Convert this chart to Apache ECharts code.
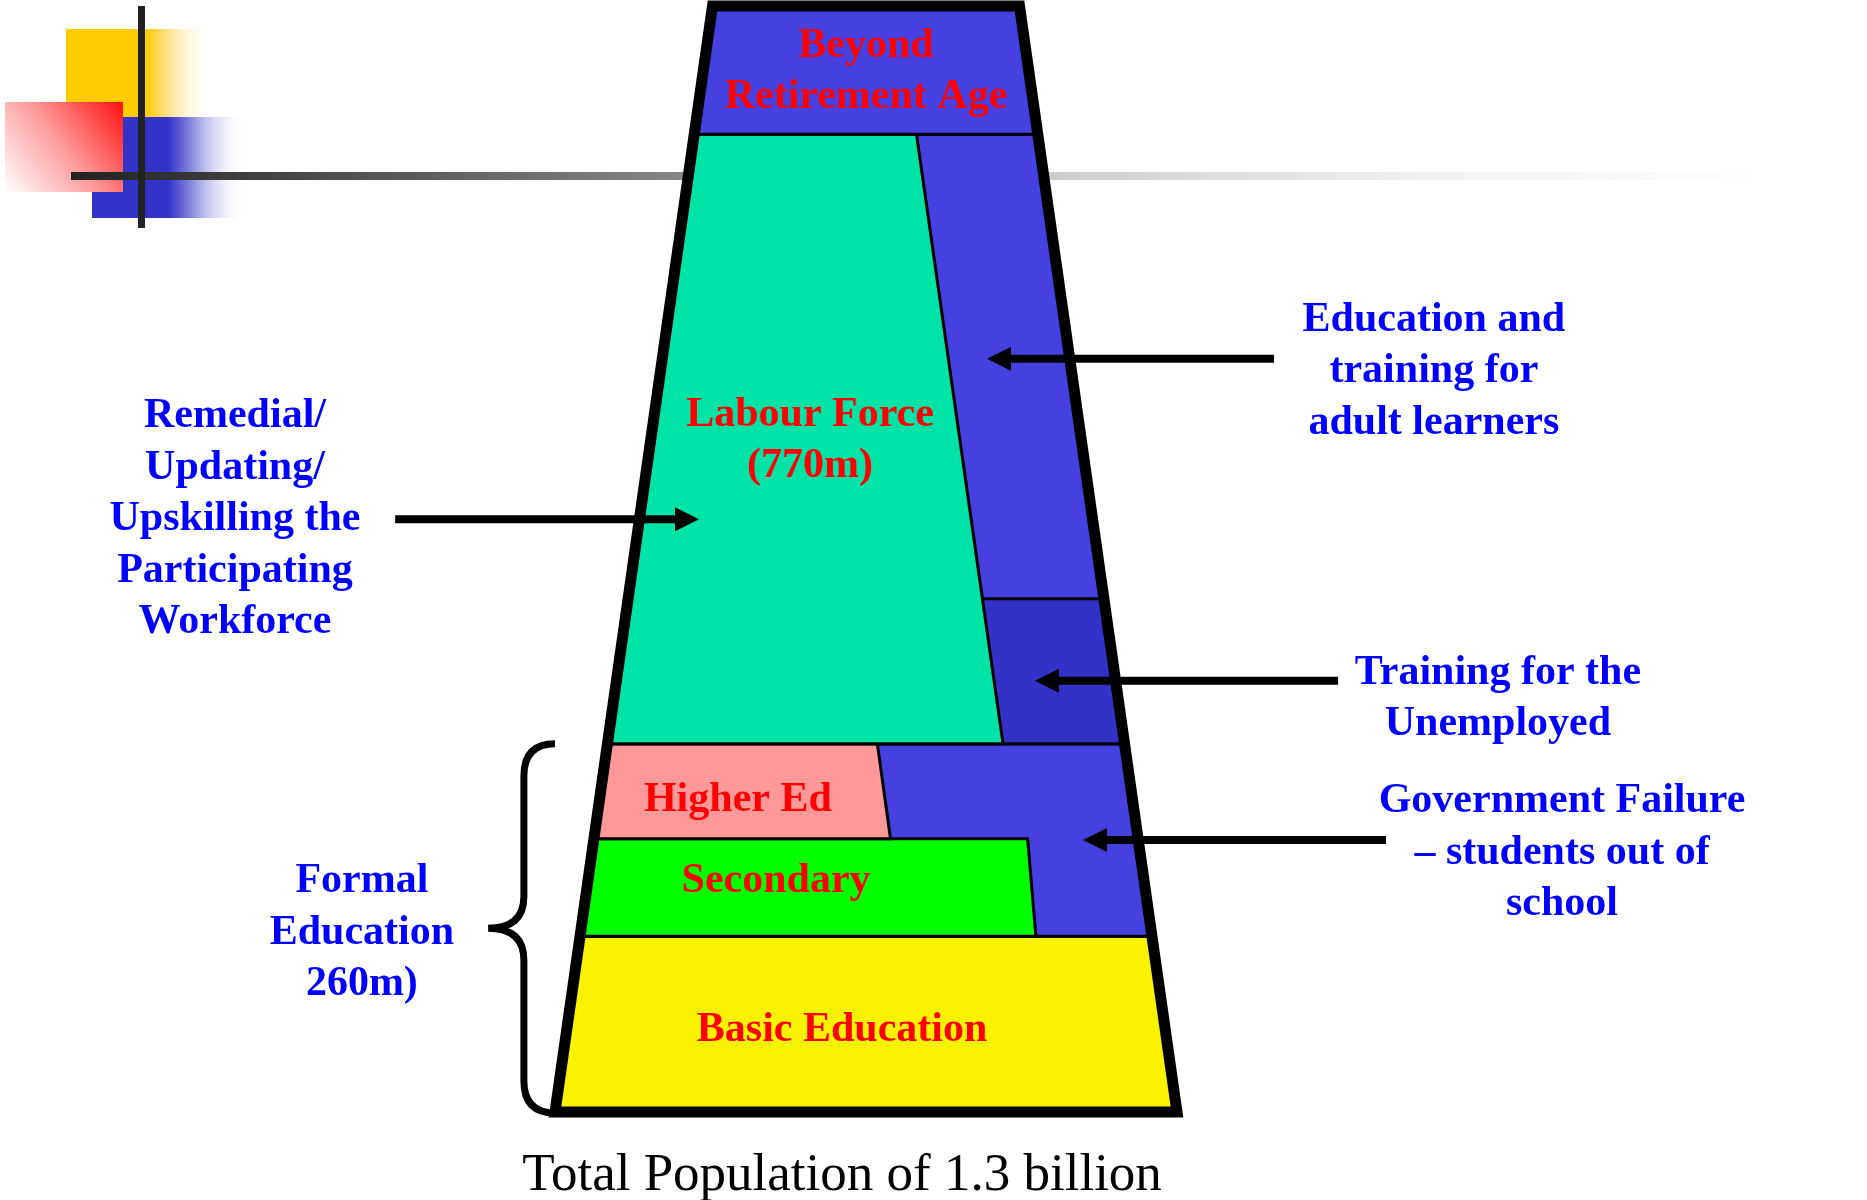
<!DOCTYPE html>
<html><head><meta charset="utf-8">
<script src="https://cdn.jsdelivr.net/npm/echarts@6/dist/echarts.min.js"></script>
<style>html,body{margin:0;padding:0;background:#fff}#c{width:1867px;height:1200px}</style>
</head><body><div id="c"></div>
<script>
// ---------------- data ----------------
const totalPopulation = 1.3;      // billion
const labourForce = 770;          // million
const formalEducation = 260;      // million
// band boundaries as share of the pyramid height (0 = bottom, 100 = top)
const bandLevels = [0, 15.9, 24.7, 33.3, 46.4, 88.4, 100];
// blocks: bottom / top band index, right-hand split (fraction of width) at bottom and top
const blockNames   = ['Basic Education', 'Students out of school', 'Secondary', 'Higher Ed', 'Adult learners', 'Unemployed', 'Labour Force', 'Beyond Retirement Age'];
const blockBottom  = [0, 1, 1, 2, 3, 3, 3, 5];
const blockTop     = [1, 3, 2, 3, 5, 4, 5, 6];
const blockRightLo = [1, 1, 0.797, 0.545, 1, 1, 0.765, 1];
const blockRightHi = [1, 1, 0.797, 0.522, 1, 1, 0.647, 1];
const blockLabels  = ['Basic Education', '', 'Secondary', 'Higher Ed', '', '', 'Labour Force\n(' + labourForce + 'm)', 'Beyond\nRetirement Age'];
const noteTexts = [
  'Education and\ntraining for\nadult learners',
  'Training for the\nUnemployed',
  'Government Failure\n\u2013 students out of\nschool',
  'Remedial/\nUpdating/\nUpskilling the\nParticipating\nWorkforce',
  'Formal\nEducation\n' + formalEducation + 'm)'
];
const footerText = 'Total Population of ' + totalPopulation + ' billion';

// ---------------- layout & style ----------------
const blockColors = ['#F9F200', '#4740E0', '#00FF00', '#FF9999', '#4740E0', '#3431C8', '#00E3A7', '#4740E0'];
const geo = { topHalfWidth: 0.4936, outline: 11, sep: 3, lineHeight: 51.5, headLen: 24, headHalf: 12, arrowWidth: 8, textDy: 3.5 };
const labelAnchor = [[-0.077, 7.7], null, [-0.289, 21.2], [-0.412, 28.5], null, null, [-0.18, 61.0], [0, 94.4]];
const noteAnchor = [[1.826, 67.3], [2.032, 37.7], [2.238, 23.75], [-2.029, 53.9], [-1.621, 16.5]];
const arrowLayout = [
  { tail: 1.312, tip: 0.389, h: 68.1 },
  { tail: 1.518, tip: 0.543, h: 39.0 },
  { tail: 1.672, tip: 0.698, h: 24.6 },
  { tail: -1.514, tip: -0.537, h: 53.6 }
];
const braceLayout = { uEnd: -1.0, uSpine: -1.1, uTip: -1.215, r: 32, width: 7 };
const footerAnchor = [-0.077, -5.44];
const FONT = '"Liberation Serif", "Times New Roman", serif';

function toPx(api, f, h) {
  const hw = 1 + (geo.topHalfWidth - 1) * h / 100;
  return api.coord([(2 * f - 1) * hw, h]);
}

const chart = echarts.init(document.getElementById('c'), null, { renderer: 'canvas' });
const LG = echarts.graphic.LinearGradient;

const option = {
  animation: false,
  backgroundColor: '#ffffff',
  grid: { left: 555, top: 6, width: 622, height: 1106, show: false },
  xAxis: { type: 'value', min: -1, max: 1, show: false },
  yAxis: { type: 'value', min: 0, max: 100, show: false },
  graphic: { elements: [
    { type: 'rect', z: 0, shape: { x: 66, y: 29, width: 148, height: 89 },
      style: { fill: new LG(0, 0, 1, 0, [{ offset: 0, color: '#FFCC00' }, { offset: 0.53, color: '#FFCC00' }, { offset: 0.65, color: '#FFDB6A' }, { offset: 1, color: 'rgba(255,255,255,0)' }]) } },
    { type: 'rect', z: 0, shape: { x: 92, y: 117, width: 153, height: 101 },
      style: { fill: new LG(0, 0, 1, 0, [{ offset: 0, color: '#3333CC' }, { offset: 0.5, color: '#3333CC' }, { offset: 0.65, color: '#8888DD' }, { offset: 1, color: 'rgba(255,255,255,0)' }]) } },
    { type: 'rect', z: 0, shape: { x: 5, y: 102, width: 118, height: 90 },
      style: { fill: new LG(1, 0, 0, 1, [{ offset: 0, color: '#FF1010' }, { offset: 0.5, color: '#FF9a9a' }, { offset: 1, color: '#FFFFFF' }]) } },
    { type: 'rect', z: 0, shape: { x: 71, y: 172, width: 1700, height: 8 },
      style: { fill: new LG(0, 0, 1, 0, [{ offset: 0, color: '#222222' }, { offset: 0.36, color: '#888888' }, { offset: 0.576, color: '#cccccc' }, { offset: 0.8, color: '#f2f2f2' }, { offset: 1, color: '#ffffff' }]) } },
    { type: 'rect', z: 0, shape: { x: 138, y: 6, width: 7, height: 222 }, style: { fill: '#222222' } }
  ] },
  series: [
    { // blocks
      type: 'custom', z: 2, clip: false, silent: true,
      data: blockNames.map((n, i) => [0, i]),
      renderItem(params, api) {
        const i = params.dataIndex;
        const h0 = bandLevels[blockBottom[i]], h1 = bandLevels[blockTop[i]];
        const pts = [toPx(api, 0, h0), toPx(api, blockRightLo[i], h0), toPx(api, blockRightHi[i], h1), toPx(api, 0, h1)];
        return { type: 'polygon', shape: { points: pts }, style: { fill: blockColors[i], stroke: '#000', lineWidth: geo.sep } };
      }
    },
    { // outline
      type: 'custom', z: 3, clip: false, silent: true,
      data: [[0, 0]],
      renderItem(params, api) {
        const lo = bandLevels[0], hi = bandLevels[bandLevels.length - 1];
        const pts = [toPx(api, 0, lo), toPx(api, 1, lo), toPx(api, 1, hi), toPx(api, 0, hi)];
        return { type: 'polygon', shape: { points: pts }, style: { fill: 'none', stroke: '#000', lineWidth: geo.outline, lineJoin: 'miter' } };
      }
    },
    { // brace for formal education
      type: 'custom', z: 3, clip: false, silent: true,
      data: [[0, 0]],
      renderItem(params, api) {
        const b = braceLayout;
        const top = api.coord([b.uEnd, bandLevels[3]]), bot = api.coord([b.uEnd, bandLevels[0]]);
        const xE = top[0], xS = api.coord([b.uSpine, 0])[0], xT = api.coord([b.uTip, 0])[0];
        const yT = top[1], yB = bot[1] + 1, yM = (yT + yB) / 2, r = b.r;
        const d = 'M' + xE + ' ' + yT + ' Q' + xS + ' ' + yT + ' ' + xS + ' ' + (yT + r) +
          ' L' + xS + ' ' + (yM - r) + ' Q' + xS + ' ' + yM + ' ' + xT + ' ' + yM +
          ' Q' + xS + ' ' + yM + ' ' + xS + ' ' + (yM + r) +
          ' L' + xS + ' ' + (yB - r) + ' Q' + xS + ' ' + yB + ' ' + xE + ' ' + yB;
        return { type: 'path', shape: { pathData: d }, style: { fill: 'none', stroke: '#000', lineWidth: b.width } };
      }
    },
    { // arrows
      type: 'custom', z: 4, clip: false, silent: true,
      data: arrowLayout.map((a, i) => [0, i]),
      renderItem(params, api) {
        const a = arrowLayout[params.dataIndex];
        const p0 = api.coord([a.tail, a.h]), p1 = api.coord([a.tip, a.h]);
        const dir = Math.sign(p1[0] - p0[0]);
        const base = p1[0] - dir * geo.headLen;
        return { type: 'group', children: [
          { type: 'line', shape: { x1: p0[0], y1: p0[1], x2: base + dir, y2: p1[1] }, style: { stroke: '#000', lineWidth: geo.arrowWidth } },
          { type: 'polygon', shape: { points: [[p1[0], p1[1]], [base, p1[1] - geo.headHalf], [base, p1[1] + geo.headHalf]] }, style: { fill: '#000' } }
        ] };
      }
    },
    { // red block labels
      type: 'custom', z: 5, clip: false, silent: true,
      data: blockLabels.map((t, i) => [0, i]),
      renderItem(params, api) {
        const i = params.dataIndex;
        if (!blockLabels[i]) return null;
        const p = api.coord(labelAnchor[i]);
        return { type: 'text', x: p[0], y: p[1] + geo.textDy, style: { text: blockLabels[i], fill: '#FF0000', fontSize: 42, fontWeight: 'bold', fontFamily: FONT, align: 'center', verticalAlign: 'middle', lineHeight: geo.lineHeight } };
      }
    },
    { // blue annotations
      type: 'custom', z: 5, clip: false, silent: true,
      data: noteTexts.map((t, i) => [0, i]),
      renderItem(params, api) {
        const i = params.dataIndex;
        const p = api.coord(noteAnchor[i]);
        return { type: 'text', x: p[0], y: p[1] + geo.textDy, style: { text: noteTexts[i], fill: '#0000FF', fontSize: 42, fontWeight: 'bold', fontFamily: FONT, align: 'center', verticalAlign: 'middle', lineHeight: geo.lineHeight } };
      }
    },
    { // footer
      type: 'custom', z: 5, clip: false, silent: true,
      data: [[0, 0]],
      renderItem(params, api) {
        const p = api.coord(footerAnchor);
        return { type: 'text', x: p[0], y: p[1] + geo.textDy, style: { text: footerText, fill: '#000', fontSize: 53, fontFamily: FONT, align: 'center', verticalAlign: 'middle' } };
      }
    }
  ]
};
chart.setOption(option);
</script>
</body></html>
